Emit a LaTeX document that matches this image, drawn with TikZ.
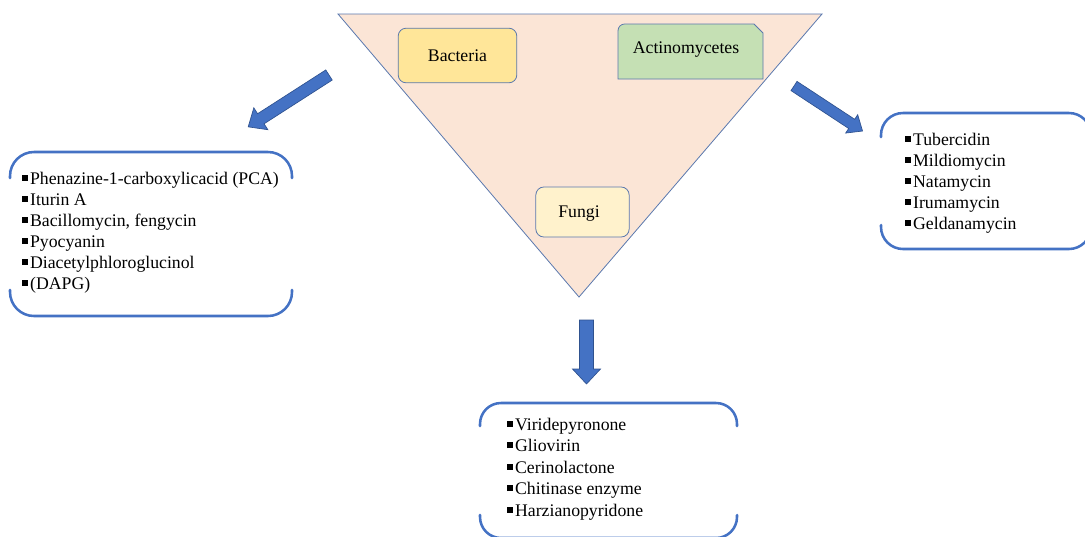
\documentclass[tikz,border=0pt]{standalone}
\usepackage{fontspec}
\setmainfont{Liberation Serif}
\usetikzlibrary{arrows.meta}
\usetikzlibrary{positioning}

\definecolor{trifill}{HTML}{FBE5D6}
\definecolor{triline}{HTML}{5A78AE}
\definecolor{bactfill}{HTML}{FFE699}
\definecolor{actfill}{HTML}{C5E0B4}
\definecolor{fungfill}{HTML}{FFF2CC}
\definecolor{arrowblue}{HTML}{4472C4}
\definecolor{arrowline}{HTML}{2F528F}

\tikzset{
  listframe/.style={draw=arrowblue, line width=1.9pt, line cap=round},
  item/.style={anchor=base west, inner sep=0pt},
  groupbox/.style={draw=triline, line width=0.6pt, rounded corners=6pt, inner sep=0pt},
  blockarrow/.style={fill=arrowblue, draw=arrowline, line width=0.5pt},
}

\newcommand{\blt}{\rule[2.6pt]{4.1pt}{4.3pt}\hspace{1.8pt}}

% Blockpfeil: Anfang, Winkel, Laenge, halbe Schaftbreite, halbe Spitzenbreite, Spitzenlaenge
\newcommand{\blockarr}[6]{%
  \begin{scope}[shift={#1}, rotate=#2]
    \draw[blockarrow] (0,-#4) -- ({#3-#6},-#4) -- ({#3-#6},-#5) -- (#3,0)
      -- ({#3-#6},#5) -- ({#3-#6},#4) -- (0,#4) -- cycle;
  \end{scope}}

% Klammerrahmen: links, oben, rechts, unten, Radius
\newcommand{\listbox}[5]{%
  \draw[listframe] (#1,{#2+#5+2}) [rounded corners=#5*0.75pt] -- (#1,#2) -- (#3,#2) -- (#3,{#2+#5+2});
  \draw[listframe] (#1,{#4-#5-2}) [rounded corners=#5*0.75pt] -- (#1,#4) -- (#3,#4) -- (#3,{#4-#5-2});}

\begin{document}
\begin{tikzpicture}[x=0.75pt, y=-0.75pt, font=\fontsize{13.3}{15}\selectfont]
\useasboundingbox (0,0) rectangle (1085,536);
\clip (0,0) rectangle (1085,536);

% Dreieck
\draw[fill=trifill, draw=triline, line width=0.6pt] (338,14) -- (822,14) -- (579,297) -- cycle;

% Gruppen
\node[groupbox, fill=bactfill, minimum width=89pt, minimum height=41pt] (bact) at (457.5,55.5) {Bacteria};
\draw[fill=actfill, draw=triline, line width=0.6pt] (618,79) [rounded corners=5pt] -- (618,24) [sharp corners] -- (754,24) -- (763,33) -- (763,79) -- cycle;
\node (actino) at (686,50) {Actinomycetes};
\node[groupbox, fill=fungfill, minimum width=70pt, minimum height=37.5pt] (fungi) at (582.5,212) {};
\node (fungilabel) at (579,214) {Fungi};

% Pfeile
\blockarr{(329,75)}{212.7}{96}{6}{13}{15}
\blockarr{(794,86)}{-33.3}{82}{5.5}{11}{13}
\blockarr{(586.5,320)}{-90}{64}{7}{14}{15}

% Listen
\listbox{10}{152}{292}{316}{24}
\foreach \t [count=\i] in {Phenazine-1-carboxylicacid (PCA), Iturin A, {Bacillomycin, fengycin}, Pyocyanin, Diacetylphloroglucinol, {(DAPG)}}
  \node[item] (bactitem\i) at (22,{184+21*(\i-1)}) {\blt\t};

\listbox{881}{113}{1091}{249}{22}
\foreach \t [count=\i] in {Tubercidin, Mildiomycin, Natamycin, Irumamycin, Geldanamycin}
  \node[item] (actitem\i) at (905,{145+21*(\i-1)}) {\blt\t};

\listbox{480}{403}{737}{538}{21}
\foreach \t [count=\i] in {Viridepyronone, Gliovirin, Cerinolactone, Chitinase enzyme, Harzianopyridone}
  \node[item] (fungiitem\i) at (507,{430+21.5*(\i-1)}) {\blt\t};

\end{tikzpicture}
\end{document}
